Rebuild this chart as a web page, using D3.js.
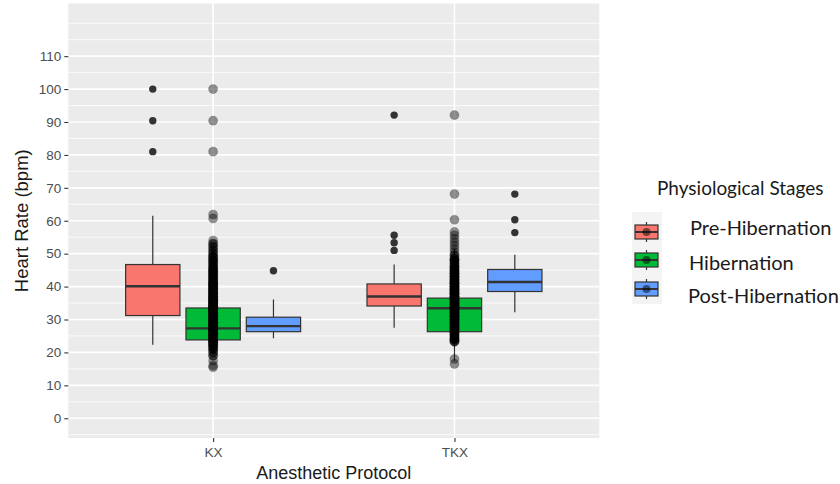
<!DOCTYPE html>
<html>
<head>
<meta charset="utf-8">
<script src="https://cdn.jsdelivr.net/npm/d3@7"></script>
<style>
  html, body { margin: 0; padding: 0; background: #ffffff; }
  svg { display: block; }
</style>
</head>
<body>
<svg id="chart" width="840" height="484"></svg>
<script>
// ---- data -------------------------------------------------------------
const protocols = ["KX", "TKX"];
const stages = ["Pre-Hibernation", "Hibernation", "Post-Hibernation"];
const stageColors = ["#F8766D", "#00BA38", "#619CFF"];
const yTicks = [0, 10, 20, 30, 40, 50, 60, 70, 80, 90, 100, 110];

// box statistics, rows = protocol, columns = stage
const whiskerLow  = [[22.3, 19.5, 24.3], [27.5, 17.5, 32.2]];
const quartile1   = [[31.2, 23.8, 26.3], [34.1, 26.3, 38.5]];
const medians     = [[40.1, 27.3, 28.0], [37.0, 33.4, 41.4]];
const quartile3   = [[46.7, 33.5, 30.7], [40.8, 36.5, 45.2]];
const whiskerHigh = [[61.5, 48.0, 36.1], [46.7, 51.5, 49.7]];
// outliers drawn as solid points (hibernation ones are covered by the readings column)
const outliers = [
  [[100, 90.4, 81], [], [44.8]],
  [[92.1, 55.6, 53.3, 51], [], [68.1, 60.3, 56.4]]
];

// individual heart-rate readings (value and number of repeats) per protocol
const kxValues  = [100, 90.4, 81, 61.9, 60.7, 54, 53, 52, 51, 50, 49, 48, 47, 46, 45, 44, 43, 42, 41, 40, 39, 38, 37, 36, 35, 34, 33, 32, 31, 30, 29, 28, 27, 26, 25, 24, 23, 22, 21, 20, 19, 17.5, 16, 15.5];
const kxCounts  = [1, 1, 1, 1, 1, 1, 2, 2, 2, 2, 3, 3, 3, 3, 4, 4, 4, 4, 5, 5, 5, 5, 5, 6, 6, 6, 6, 6, 6, 6, 6, 6, 6, 6, 6, 5, 5, 4, 3, 2, 2, 1, 1, 1];
const tkxValues = [92.1, 68.1, 60.3, 56.6, 55.6, 54.5, 53.5, 52.5, 51.5, 50.5, 49.5, 48.5, 48, 47, 46, 45, 44, 43, 42, 41, 40, 39, 38, 37, 36, 35, 34, 33, 32, 31, 30, 29, 28, 27, 26, 25, 24, 23.3, 18, 16.5];
const tkxCounts = [1, 1, 1, 1, 1, 1, 1, 1, 1, 1, 2, 2, 3, 3, 4, 4, 5, 5, 5, 6, 6, 6, 6, 6, 6, 6, 6, 6, 6, 6, 6, 6, 5, 5, 5, 4, 4, 3, 1, 1];

// ---- layout -----------------------------------------------------------
const panel = { left: 68.3, right: 599.3, top: 3.5, bottom: 438 };
const svg = d3.select("#chart");
const axisFont = "'Liberation Sans', Arial, sans-serif";
const legendFont = "Lato, 'Open Sans', sans-serif";

const y = d3.scaleLinear().domain([-6, 126]).range([panel.bottom, panel.top]);
const xPos = d3.scaleLinear().domain([0.4, 2.6]).range([panel.left, panel.right]);
const x = d3.scalePoint().domain(protocols).range([xPos(1), xPos(2)]);
const dodge = 0.25, boxHalf = 0.1125;

// panel background and grid
svg.append("rect")
  .attr("x", panel.left).attr("y", panel.top)
  .attr("width", panel.right - panel.left).attr("height", panel.bottom - panel.top)
  .attr("fill", "#EBEBEB");

const minorBreaks = [-5, 5, 15, 25, 35, 45, 55, 65, 75, 85, 95, 105, 115, 120];
svg.append("g").selectAll("line").data(minorBreaks).join("line")
  .attr("x1", panel.left).attr("x2", panel.right)
  .attr("y1", d => y(d)).attr("y2", d => y(d))
  .attr("stroke", "#ffffff").attr("stroke-width", 0.8);
svg.append("g").selectAll("line").data(yTicks).join("line")
  .attr("x1", panel.left).attr("x2", panel.right)
  .attr("y1", d => y(d)).attr("y2", d => y(d))
  .attr("stroke", "#ffffff").attr("stroke-width", 1.6);
svg.append("g").selectAll("line").data(protocols).join("line")
  .attr("x1", d => x(d)).attr("x2", d => x(d))
  .attr("y1", panel.top).attr("y2", panel.bottom)
  .attr("stroke", "#ffffff").attr("stroke-width", 1.6);

// boxes
const boxes = [];
protocols.forEach((p, i) => stages.forEach((s, j) => boxes.push({
  p, i, j,
  cx: xPos(i + 1 + (j - 1) * dodge),
  lo: whiskerLow[i][j], q1: quartile1[i][j], med: medians[i][j],
  q3: quartile3[i][j], hi: whiskerHigh[i][j], out: outliers[i][j]
})));
const halfPx = xPos(boxHalf) - xPos(0);

const gBox = svg.append("g");
boxes.forEach(b => {
  const g = gBox.append("g");
  g.append("line").attr("x1", b.cx).attr("x2", b.cx)
    .attr("y1", y(b.q3)).attr("y2", y(b.hi))
    .attr("stroke", "#333333").attr("stroke-width", 1.2);
  g.append("line").attr("x1", b.cx).attr("x2", b.cx)
    .attr("y1", y(b.q1)).attr("y2", y(b.lo))
    .attr("stroke", "#333333").attr("stroke-width", 1.2);
  g.append("rect")
    .attr("x", b.cx - halfPx).attr("width", 2 * halfPx)
    .attr("y", y(b.q3)).attr("height", y(b.q1) - y(b.q3))
    .attr("fill", stageColors[b.j]).attr("stroke", "#333333").attr("stroke-width", 1.2);
  g.append("line").attr("x1", b.cx - halfPx).attr("x2", b.cx + halfPx)
    .attr("y1", y(b.med)).attr("y2", y(b.med))
    .attr("stroke", "#333333").attr("stroke-width", 2.4);
  g.selectAll("circle").data(b.out).join("circle")
    .attr("cx", b.cx).attr("cy", d => y(d)).attr("r", 3.7)
    .attr("fill", "#333333");
});

// all readings, stacked at each protocol's centre with transparency
const readings = [];
[[kxValues, kxCounts], [tkxValues, tkxCounts]].forEach(([vals, counts], i) => {
  vals.forEach((v, k) => { for (let n = 0; n < counts[k]; n++) readings.push({ p: protocols[i], v }); });
});
svg.append("g").selectAll("circle").data(readings).join("circle")
  .attr("cx", d => x(d.p)).attr("cy", d => y(d.v)).attr("r", 4.6)
  .attr("fill", "#000000").attr("fill-opacity", 0.42)
  .attr("stroke", "#000000").attr("stroke-opacity", 0.15).attr("stroke-width", 1);

// axes
const yAxis = svg.append("g").attr("transform", `translate(${panel.left},0)`)
  .call(d3.axisLeft(y).tickValues(yTicks).tickSize(4).tickPadding(3));
const xAxis = svg.append("g").attr("transform", `translate(0,${panel.bottom})`)
  .call(d3.axisBottom(x).tickSize(4).tickPadding(5));
[yAxis, xAxis].forEach(a => {
  a.select(".domain").remove();
  a.selectAll(".tick line").attr("stroke", "#333333").attr("stroke-width", 1.1);
  a.selectAll(".tick text").attr("fill", "#4D4D4D")
    .style("font-family", axisFont).style("font-size", "13.5px");
});

svg.append("text")
  .attr("transform", `translate(28,${(panel.top + panel.bottom) / 2}) rotate(-90)`)
  .attr("text-anchor", "middle")
  .style("font-family", axisFont).style("font-size", "18.5px").attr("fill", "#1A1A1A")
  .text("Heart Rate (bpm)");
svg.append("text")
  .attr("x", (panel.left + panel.right) / 2).attr("y", 479)
  .attr("text-anchor", "middle")
  .style("font-family", axisFont).style("font-size", "18px").attr("fill", "#1A1A1A")
  .text("Anesthetic Protocol");

// legend
const legend = svg.append("g");
legend.append("text").attr("x", 657).attr("y", 195)
  .style("font-family", legendFont).style("font-size", "19px").attr("fill", "#1A1A1A")
  .text("Physiological Stages");
legend.append("rect").attr("x", 632).attr("y", 212).attr("width", 30).attr("height", 92)
  .attr("fill", "#F4F4F4");
const keyY = [232, 260, 289];
const labelY = [235, 270, 303];
const labelX = [690, 689, 688];
stages.forEach((s, j) => {
  const k = legend.append("g");
  const cx = 646.5;
  k.append("line").attr("x1", cx).attr("x2", cx).attr("y1", keyY[j] - 10).attr("y2", keyY[j] + 10)
    .attr("stroke", "#333333").attr("stroke-width", 1.2);
  k.append("rect").attr("x", cx - 11.5).attr("y", keyY[j] - 7).attr("width", 23).attr("height", 14)
    .attr("fill", stageColors[j]).attr("stroke", "#333333").attr("stroke-width", 1.2);
  k.append("line").attr("x1", cx - 11.5).attr("x2", cx + 11.5).attr("y1", keyY[j]).attr("y2", keyY[j])
    .attr("stroke", "#333333").attr("stroke-width", 2);
  k.append("circle").attr("cx", cx).attr("cy", keyY[j]).attr("r", 4)
    .attr("fill", "#000000").attr("fill-opacity", 0.5);
  legend.append("text").attr("x", labelX[j]).attr("y", labelY[j])
    .style("font-family", legendFont).style("font-size", "20px").attr("fill", "#1A1A1A")
    .text(s);
});
</script>
</body>
</html>
